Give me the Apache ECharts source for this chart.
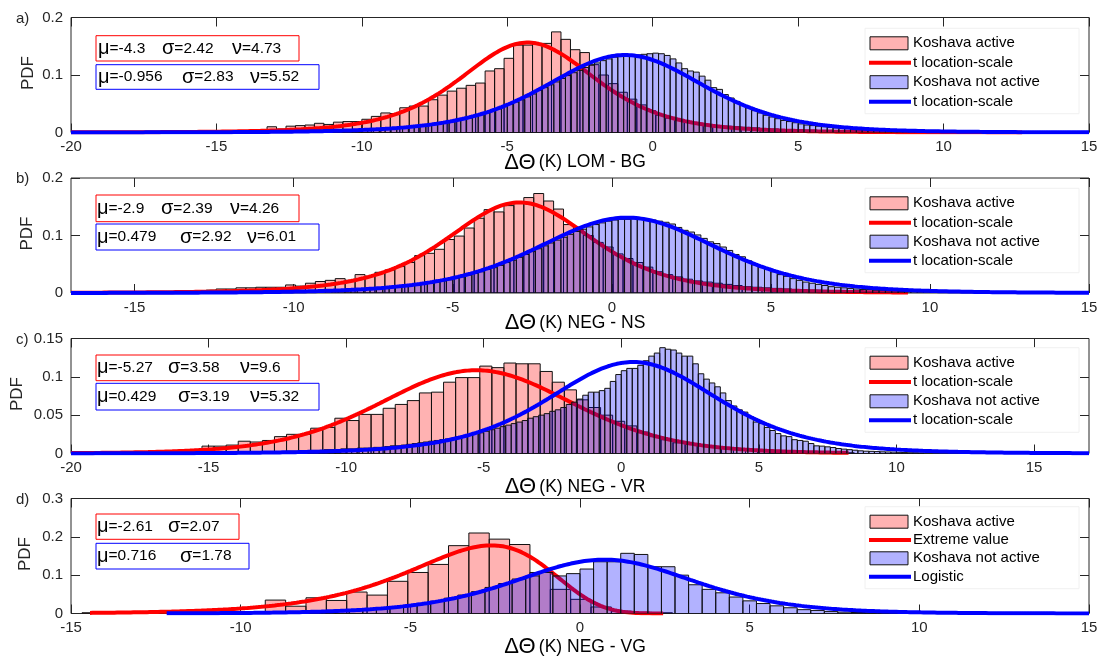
<!DOCTYPE html>
<html>
<head>
<meta charset="utf-8">
<script src="https://cdn.jsdelivr.net/npm/echarts@6/dist/echarts.min.js"></script>
<style>
  html, body { margin: 0; padding: 0; background: #ffffff; }
  #chart { width: 1104px; height: 662px; }
</style>
</head>
<body>
<div id="chart"></div>
<script>
// ---------- panel setup ----------
const panelLabels = ['a)', 'b)', 'c)', 'd)'];
const pairNames = ['LOM - BG', 'NEG - NS', 'NEG - VR', 'NEG - VG'];
const xMin = [-20, -17, -20, -15];
const xMax = [15, 15, 17, 15];
const xTicks = [
  [-20, -15, -10, -5, 0, 5, 10, 15],
  [-15, -10, -5, 0, 5, 10, 15],
  [-20, -15, -10, -5, 0, 5, 10, 15],
  [-15, -10, -5, 0, 5, 10, 15]
];
const yMax = [0.2, 0.2, 0.15, 0.3];
const yTicks = [
  [0, 0.1, 0.2],
  [0, 0.1, 0.2],
  [0, 0.05, 0.1, 0.15],
  [0, 0.1, 0.2, 0.3]
];

// ---------- fitted distributions ----------
const activeFitName = ['t location-scale', 't location-scale', 't location-scale', 'Extreme value'];
const notActiveFitName = ['t location-scale', 't location-scale', 't location-scale', 'Logistic'];
const activeFitKind = ['t', 't', 't', 'ev'];
const notActiveFitKind = ['t', 't', 't', 'logistic'];
const activeMu = [-4.3, -2.9, -5.27, -2.61];
const activeSigma = [2.42, 2.39, 3.58, 2.07];
const activeNu = [4.73, 4.26, 9.6, null];
const notActiveMu = [-0.956, 0.479, 0.429, 0.716];
const notActiveSigma = [2.83, 2.92, 3.19, 1.78];
const notActiveNu = [5.52, 6.01, 5.32, null];
// x-span over which each fitted curve is plotted
const activeCurveFrom = [-20, -17, -20, -14.44];
const activeCurveTo = [12.7, 9.31, 8.26, 2.45];
const notActiveCurveFrom = [-20, -17, -20, -12.18];
const notActiveCurveTo = [15, 15, 17, 15];

// ---------- histograms (PDF-normalised bin heights) ----------
const activeBinStart = [-14.89, -15.246, -16.995, -14.675];
const activeBinWidth = [0.326, 0.312, 0.439, 0.6];
const notActiveBinStart = [-12.0, -12.0, -14.0, -12.0];
const notActiveBinWidth = [0.2, 0.2, 0.2, 0.4];

const activeHeightsA = [
  0.001, 0.002, 0.002, 0.003, 0.003, 0.010, 0.006, 0.011, 0.012, 0.013, 0.016, 0.014, 0.018, 0.019, 0.019,
  0.023, 0.028, 0.034, 0.033, 0.043, 0.046, 0.046, 0.057, 0.065, 0.072, 0.077, 0.082, 0.086, 0.107, 0.111,
  0.129, 0.152, 0.152, 0.155, 0.155, 0.175, 0.162, 0.144, 0.139,
  0.118, 0.100, 0.085, 0.070, 0.058, 0.048, 0.038, 0.030, 0.025, 0.021, 0.018, 0.016, 0.014, 0.012, 0.011,
  0.010, 0.009, 0.008, 0.007, 0.006, 0.005, 0.005, 0.004, 0.004, 0.003, 0.003, 0.002, 0.002, 0.002, 0.001, 0.001
];
const activeHeightsB = [
  0.002, 0.001, 0.001, 0.001, 0.001, 0.002, 0.002, 0.003, 0.005, 0.007, 0.007, 0.009, 0.009, 0.010, 0.010,
  0.010, 0.014, 0.012, 0.017, 0.020, 0.022, 0.025, 0.022,
  0.032, 0.029, 0.036, 0.040, 0.046, 0.053, 0.065, 0.069, 0.076, 0.093, 0.099, 0.113, 0.130, 0.145, 0.141,
  0.152, 0.156, 0.166, 0.173, 0.160, 0.146, 0.119, 0.110,
  0.100, 0.088, 0.080, 0.068, 0.060, 0.053, 0.045, 0.037, 0.032, 0.028, 0.024, 0.021, 0.019, 0.017, 0.015,
  0.013, 0.011, 0.010, 0.009, 0.008, 0.007, 0.006, 0.005, 0.005, 0.004, 0.004, 0.003, 0.003, 0.002, 0.002,
  0.002, 0.001
];
const activeHeightsC = [
  0.001, 0.002, 0.004, 0.004, 0.0096, 0.0096, 0.011, 0.016, 0.015, 0.017, 0.022, 0.025, 0.025, 0.033, 0.034,
  0.046, 0.043, 0.051, 0.051, 0.059, 0.064, 0.069, 0.079, 0.080, 0.093, 0.099, 0.099, 0.114, 0.112, 0.118,
  0.117, 0.117, 0.107, 0.093, 0.083, 0.070,
  0.060, 0.050, 0.042, 0.036, 0.028, 0.022, 0.018, 0.014, 0.012, 0.010, 0.008, 0.007, 0.006, 0.005, 0.004,
  0.004, 0.003, 0.003, 0.002, 0.002, 0.002, 0.001
];
const activeHeightsD = [
  0.002, 0, 0, 0, 0.002, 0, 0.001, 0.001, 0.001, 0.035, 0.019, 0.041, 0.034, 0.056, 0.048,
  0.084, 0.107, 0.128, 0.177, 0.210, 0.194, 0.180, 0.107, 0.063, 0.037, 0.017, 0.006, 0.003, 0.002
];

const notActiveHeightsA = [
  0.002, 0.002, 0.002, 0.003, 0.002, 0.003, 0.003, 0.004, 0.004, 0.005,
  0.004, 0.005, 0.006, 0.006, 0.007, 0.007, 0.008, 0.009, 0.010, 0.011,
  0.012, 0.013, 0.014, 0.016, 0.018, 0.019, 0.021, 0.023, 0.025, 0.028,
  0.031, 0.034, 0.037, 0.041, 0.045, 0.049, 0.053, 0.057, 0.062, 0.067,
  0.073, 0.078, 0.083, 0.088, 0.094, 0.099, 0.104, 0.108, 0.113, 0.117,
  0.121, 0.125, 0.128, 0.131, 0.132, 0.133, 0.134, 0.135, 0.136, 0.137,
  0.138, 0.137, 0.134, 0.128, 0.121, 0.111, 0.107, 0.105, 0.098, 0.091,
  0.078, 0.075, 0.066, 0.060, 0.054, 0.048, 0.043, 0.038, 0.034, 0.030,
  0.027, 0.024, 0.021, 0.019, 0.017, 0.015, 0.013, 0.012, 0.011, 0.010,
  0.009, 0.008, 0.007, 0.007, 0.006, 0.006, 0.005, 0.005, 0.004, 0.004,
  0.004, 0.003, 0.003, 0.003, 0.002, 0.002, 0.002, 0.002, 0.001, 0.001,
  0.001, 0.001, 0.001, 0.001, 0.0005
];
const notActiveHeightsB = [
  0.001, 0.001, 0.001, 0.002, 0.001, 0.002, 0.002, 0.002, 0.002, 0.003,
  0.003, 0.003, 0.003, 0.004, 0.004, 0.004, 0.005, 0.005, 0.005, 0.006,
  0.006, 0.007, 0.007, 0.008, 0.009, 0.010, 0.011, 0.012, 0.013, 0.014,
  0.016, 0.017, 0.019, 0.021, 0.023, 0.026, 0.028, 0.031, 0.034, 0.037,
  0.041, 0.044, 0.048, 0.053, 0.057, 0.062, 0.067, 0.072, 0.077, 0.082,
  0.087, 0.092, 0.097, 0.102, 0.107, 0.111, 0.115, 0.119, 0.122, 0.125,
  0.127, 0.128, 0.128, 0.129, 0.129, 0.128, 0.127, 0.125, 0.123, 0.120,
  0.114, 0.109, 0.106, 0.101, 0.095, 0.089, 0.086, 0.080, 0.074, 0.067,
  0.063, 0.056, 0.049, 0.045, 0.041, 0.037, 0.032, 0.029, 0.025, 0.022,
  0.019, 0.017, 0.015, 0.013, 0.011, 0.010, 0.009, 0.008, 0.007, 0.006,
  0.006, 0.005, 0.005, 0.004, 0.004, 0.003, 0.003, 0.003, 0.002, 0.002,
  0.002, 0.002, 0.001, 0.001, 0.001
];
const notActiveHeightsC = [
  0.001, 0.001, 0.001, 0.001, 0.002, 0.002, 0.002, 0.002, 0.002, 0.003,
  0.003, 0.003, 0.003, 0.004, 0.004, 0.004, 0.005, 0.005, 0.005, 0.006,
  0.006, 0.006, 0.007, 0.007, 0.007, 0.008, 0.008, 0.009, 0.010, 0.010,
  0.011, 0.012, 0.013, 0.014, 0.015, 0.016, 0.017, 0.018, 0.019, 0.020,
  0.022, 0.023, 0.024, 0.026, 0.027, 0.029, 0.031, 0.033, 0.035, 0.037,
  0.039, 0.041, 0.043, 0.046, 0.048, 0.050, 0.052, 0.055, 0.057, 0.060,
  0.064, 0.067, 0.071, 0.076, 0.080, 0.080, 0.082, 0.085, 0.094, 0.103,
  0.108, 0.111, 0.111, 0.115, 0.121, 0.127, 0.131, 0.138, 0.136, 0.135,
  0.131, 0.127, 0.127, 0.117, 0.104, 0.097, 0.092, 0.087, 0.079, 0.069,
  0.062, 0.057, 0.054, 0.048, 0.041, 0.039, 0.034, 0.030, 0.026, 0.023,
  0.022, 0.018, 0.017, 0.016, 0.013, 0.010, 0.0096, 0.0087, 0.0078, 0.0065,
  0.0057, 0.005, 0.0043, 0.0035, 0.003, 0.0028, 0.0025, 0.0022, 0.002, 0.0018,
  0.0015, 0.0012, 0.001, 0.001, 0.0008
];
const notActiveHeightsD = [
  0.0005, 0.0005, 0.001, 0.001, 0.001, 0.001, 0.0015, 0.002, 0.003, 0.004,
  0.005, 0.006, 0.008, 0.010, 0.012, 0.014, 0.017, 0.021, 0.026, 0.032,
  0.040, 0.048, 0.057, 0.068, 0.078, 0.090, 0.098, 0.107, 0.098, 0.104,
  0.116, 0.135, 0.135, 0.157, 0.154, 0.122, 0.122, 0.100, 0.075, 0.063,
  0.054, 0.043, 0.033, 0.026, 0.020, 0.015, 0.010, 0.008, 0.005, 0.0035,
  0.0026, 0.002, 0.0015, 0.001, 0.001, 0.0008, 0.0006, 0.0005
];
const activeHeights = [activeHeightsA, activeHeightsB, activeHeightsC, activeHeightsD];
const notActiveHeights = [notActiveHeightsA, notActiveHeightsB, notActiveHeightsC, notActiveHeightsD];

// ---------- layout ----------
const FONT = '"Liberation Sans", Arial, Helvetica, sans-serif';
const INK = '#262626';
const RED = '#ff0000';
const BLUE = '#0000ff';
const RED_FILL = 'rgba(255,0,0,0.3)';
const BLUE_FILL = 'rgba(0,0,255,0.3)';
const gridLeft = 71, gridWidth = 1018, gridHeight = 115;
const gridTops = [17.5, 178, 338.5, 498.5];
const titleY = [162.5, 323.3, 486.7, 646.7];
const pdfLabelX = [28, 27, 17, 25];
const legendRows = [
  [43.3, 62.7, 82.2, 101.7],
  [203.3, 222.7, 241.7, 260.7],
  [362.7, 382, 401.3, 420.3],
  [521.7, 540, 558.3, 576.7]
];
const activeBox = [[96, 35.7, 203, 25.3], [96, 195, 203, 26.7], [96, 355, 203, 25.7], [96, 514, 143, 25.3]];
const notActiveBox = [[96, 64.7, 223, 24.6], [96, 224, 223, 26], [96, 383.3, 223, 26.7], [96, 543.3, 153, 25.7]];
const activeTextX = [[98, 162, 232], [97, 161, 230], [97, 168, 240], [97, 168]];
const notActiveTextX = [[98, 182, 250], [97, 180, 247], [97, 178, 250], [97, 180]];

// ---------- density functions for the fitted curves ----------
function lnGamma(z) {
  const c = [0.99999999999980993, 676.5203681218851, -1259.1392167224028, 771.32342877765313,
    -176.61502916214059, 12.507343278686905, -0.13857109526572012, 9.9843695780195716e-6,
    1.5056327351493116e-7];
  if (z < 0.5) return Math.log(Math.PI / Math.sin(Math.PI * z)) - lnGamma(1 - z);
  z -= 1;
  let x = c[0];
  for (let i = 1; i < 9; i++) x += c[i] / (z + i);
  const t = z + 7.5;
  return 0.5 * Math.log(2 * Math.PI) + (z + 0.5) * Math.log(t) - t + Math.log(x);
}
function density(kind, x, mu, s, nu) {
  const z = (x - mu) / s;
  if (kind === 't') {
    const k = Math.exp(lnGamma((nu + 1) / 2) - lnGamma(nu / 2)) / (Math.sqrt(nu * Math.PI) * s);
    return k * Math.pow(1 + z * z / nu, -(nu + 1) / 2);
  }
  if (kind === 'ev') return Math.exp(z - Math.exp(z)) / s;
  const e = Math.exp(-z);
  return e / (s * (1 + e) * (1 + e));
}
function curvePoints(kind, mu, s, nu, from, to) {
  const pts = [];
  const n = Math.round((to - from) / 0.04);
  for (let i = 0; i <= n; i++) {
    const x = from + (to - from) * i / n;
    pts.push([x, density(kind, x, mu, s, nu)]);
  }
  return pts;
}
function binItems(start, width, heights) {
  return heights.map((h, i) => [start + i * width, start + (i + 1) * width, h]);
}
function barRenderer(fill) {
  return function (params, api) {
    const p0 = api.coord([api.value(0), api.value(2)]);
    const p1 = api.coord([api.value(1), 0]);
    return {
      type: 'rect',
      shape: { x: p0[0], y: p0[1], width: p1[0] - p0[0], height: p1[1] - p0[1] },
      style: { fill: fill, stroke: '#111111', lineWidth: 1 }
    };
  };
}
function fmt(v) { return String(v); }

// ---------- build option ----------
const grid = [], xAxis = [], yAxis = [], series = [], graphic = [];

for (let p = 0; p < 4; p++) {
  grid.push({ left: gridLeft, top: gridTops[p], width: gridWidth, height: gridHeight,
    show: true, borderColor: INK, borderWidth: 1, backgroundColor: 'transparent' });

  const tick = (vals) => ({ show: true, inside: true, length: 9, customValues: vals,
    lineStyle: { color: INK, width: 1 } });
  const noLine = { show: false, onZero: false };
  xAxis.push({ gridIndex: p, type: 'value', min: xMin[p], max: xMax[p], position: 'bottom',
    axisLine: noLine, splitLine: { show: false }, axisTick: tick(xTicks[p]),
    axisLabel: { customValues: xTicks[p], margin: 7, fontSize: 15, color: INK, fontFamily: FONT, formatter: fmt } });
  xAxis.push({ gridIndex: p, type: 'value', min: xMin[p], max: xMax[p], position: 'top',
    axisLine: noLine, splitLine: { show: false }, axisTick: tick(xTicks[p]),
    axisLabel: { show: false } });
  yAxis.push({ gridIndex: p, type: 'value', min: 0, max: yMax[p], position: 'left',
    axisLine: noLine, splitLine: { show: false }, axisTick: tick(yTicks[p]),
    axisLabel: { customValues: yTicks[p], margin: 8, fontSize: 15, color: INK, fontFamily: FONT, formatter: fmt } });
  yAxis.push({ gridIndex: p, type: 'value', min: 0, max: yMax[p], position: 'right',
    axisLine: noLine, splitLine: { show: false }, axisTick: tick(yTicks[p]),
    axisLabel: { show: false } });

  const xi = 2 * p, yi = 2 * p;
  series.push({ type: 'custom', name: 'Koshava active', xAxisIndex: xi, yAxisIndex: yi, z: 2,
    renderItem: barRenderer(RED_FILL), encode: { x: [0, 1], y: 2 }, clip: true, silent: true,
    data: binItems(activeBinStart[p], activeBinWidth[p], activeHeights[p]) });
  series.push({ type: 'line', name: activeFitName[p], xAxisIndex: xi, yAxisIndex: yi, z: 3,
    showSymbol: false, silent: true, clip: true, lineStyle: { color: RED, width: 4 },
    data: curvePoints(activeFitKind[p], activeMu[p], activeSigma[p], activeNu[p], activeCurveFrom[p], activeCurveTo[p]) });
  series.push({ type: 'custom', name: 'Koshava not active', xAxisIndex: xi, yAxisIndex: yi, z: 4,
    renderItem: barRenderer(BLUE_FILL), encode: { x: [0, 1], y: 2 }, clip: true, silent: true,
    data: binItems(notActiveBinStart[p], notActiveBinWidth[p], notActiveHeights[p]) });
  series.push({ type: 'line', name: notActiveFitName[p], xAxisIndex: xi, yAxisIndex: yi, z: 5,
    showSymbol: false, silent: true, clip: true, lineStyle: { color: BLUE, width: 4 },
    data: curvePoints(notActiveFitKind[p], notActiveMu[p], notActiveSigma[p], notActiveNu[p], notActiveCurveFrom[p], notActiveCurveTo[p]) });

  // panel letter
  graphic.push({ type: 'text', x: 16, y: gridTops[p] + 1, z: 10,
    style: { text: panelLabels[p], font: '15px ' + FONT, fill: INK, textVerticalAlign: 'middle' } });
  // y-axis title
  graphic.push({ type: 'text', x: pdfLabelX[p], y: gridTops[p] + gridHeight / 2 - 2, rotation: Math.PI / 2, z: 10,
    style: { text: 'PDF', font: '17px ' + FONT, fill: INK, textAlign: 'center', textVerticalAlign: 'middle' } });
  // x-axis title
  graphic.push({ type: 'text', x: 575, y: titleY[p], z: 10,
    style: { text: '{g|ΔΘ} {t|(K) ' + pairNames[p] + '}', textAlign: 'center', textVerticalAlign: 'middle',
      rich: { g: { font: '22px ' + FONT, fill: '#000', verticalAlign: 'middle' },
              t: { font: '17.5px ' + FONT, fill: '#000', verticalAlign: 'middle' } } } });

  // parameter boxes
  const paramBox = (box, color, textX, mu, sigma, nu) => {
    graphic.push({ type: 'rect', z: 10, shape: { x: box[0], y: box[1], width: box[2], height: box[3] },
      style: { fill: '#ffffff', stroke: color, lineWidth: 1 } });
    const parts = [['μ', mu], ['σ', sigma]];
    if (nu !== null) parts.push(['ν', nu]);
    parts.forEach((pt, i) => {
      graphic.push({ type: 'text', z: 11, x: textX[i], y: box[1] + box[3] / 2,
        style: { text: '{g|' + pt[0] + '}{n|=' + pt[1] + '}', textVerticalAlign: 'middle',
          rich: { g: { font: '20px ' + FONT, fill: '#000' }, n: { font: '15.5px ' + FONT, fill: '#000' } } } });
    });
  };
  paramBox(activeBox[p], RED, activeTextX[p], activeMu[p], activeSigma[p], activeNu[p]);
  paramBox(notActiveBox[p], BLUE, notActiveTextX[p], notActiveMu[p], notActiveSigma[p], notActiveNu[p]);

  // legend
  const rows = legendRows[p];
  graphic.push({ type: 'rect', z: 10, shape: { x: 865, y: rows[0] - 15, width: 214, height: rows[3] - rows[0] + 27 },
    style: { fill: '#ffffff', stroke: '#f0f0f0', lineWidth: 1 } });
  const legendItems = [
    ['swatch', RED_FILL, 'Koshava active'],
    ['line', RED, activeFitName[p]],
    ['swatch', BLUE_FILL, 'Koshava not active'],
    ['line', BLUE, notActiveFitName[p]]
  ];
  legendItems.forEach((it, i) => {
    const y = rows[i];
    if (it[0] === 'swatch') {
      graphic.push({ type: 'rect', z: 11, shape: { x: 870, y: y - 6.5, width: 38, height: 13 },
        style: { fill: it[1], stroke: '#111111', lineWidth: 1 } });
    } else {
      graphic.push({ type: 'line', z: 11, shape: { x1: 869, y1: y, x2: 911, y2: y },
        style: { stroke: it[1], lineWidth: 4 } });
    }
    graphic.push({ type: 'text', z: 11, x: 913, y: y,
      style: { text: it[2], font: '15px ' + FONT, fill: '#000', textVerticalAlign: 'middle' } });
  });
}

const chart = echarts.init(document.getElementById('chart'), null, { renderer: 'canvas' });
chart.setOption({
  animation: false,
  backgroundColor: '#ffffff',
  grid: grid,
  xAxis: xAxis,
  yAxis: yAxis,
  series: series,
  graphic: graphic
});
</script>
</body>
</html>
